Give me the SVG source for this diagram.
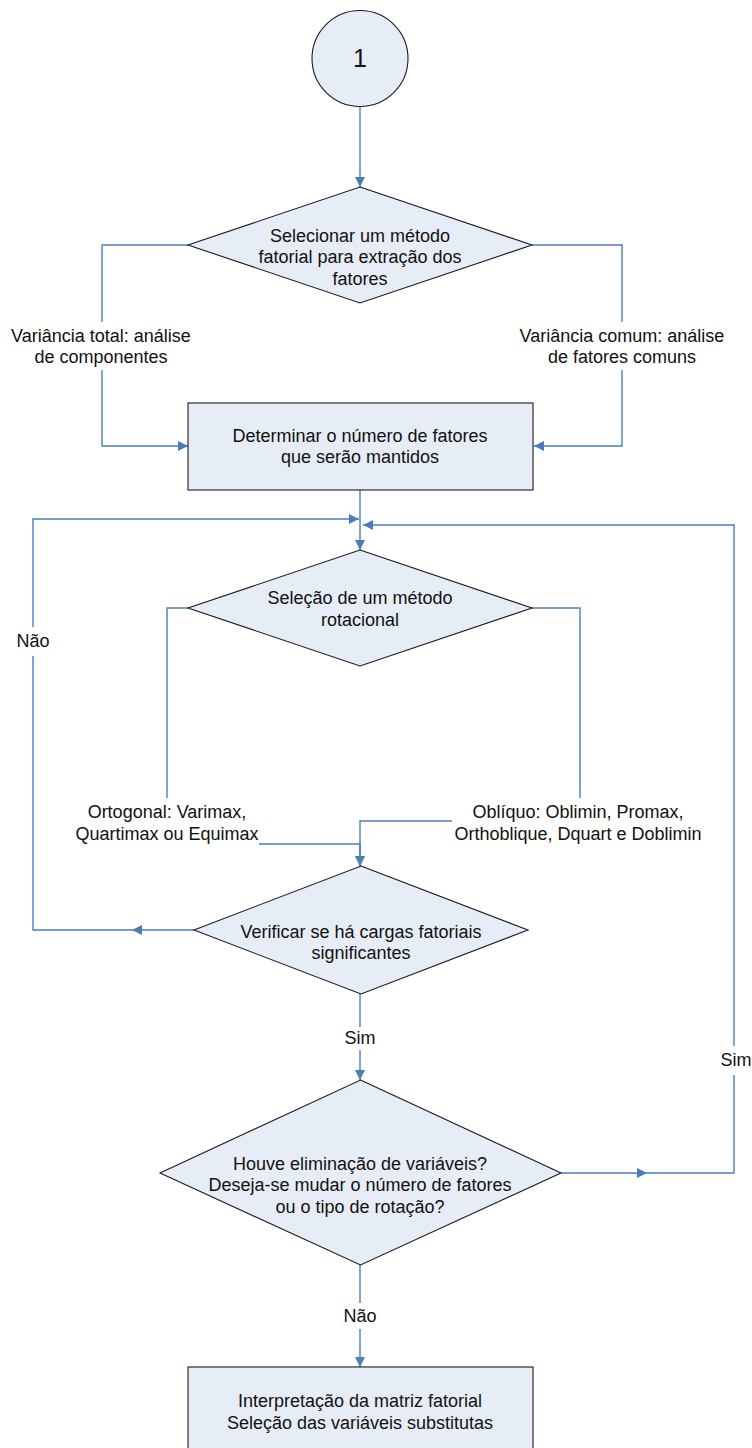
<svg xmlns="http://www.w3.org/2000/svg" width="752" height="1448" viewBox="0 0 752 1448">
<style>
.shape{fill:#E7EDF7;stroke:#1a1a1a;stroke-width:1.1}
.c{fill:none;stroke:#4A7EBB;stroke-width:1.4}
text{font-family:"Liberation Sans",Arial,sans-serif;font-size:18px;fill:#111;text-anchor:middle}
</style>
<defs>
<marker id="ah" markerUnits="userSpaceOnUse" viewBox="0 0 10 10" refX="10" refY="5" markerWidth="10" markerHeight="10" orient="auto">
<path d="M0,0 L10,5 L0,10 z" fill="#4A7EBB"/>
</marker>
</defs>
<rect width="752" height="1448" fill="#fff"/>
<g id="connectors">
<path class="c" d="M360,107 V187" marker-end="url(#ah)"/>
<path class="c" d="M188,245 H102 V322"/>
<path class="c" d="M102,370 V446 H188" marker-end="url(#ah)"/>
<path class="c" d="M532,245 H622 V322"/>
<path class="c" d="M622,370 V446 H534" marker-end="url(#ah)"/>
<path class="c" d="M360,490 V550" marker-end="url(#ah)"/>
<path class="c" d="M194,930 H132" marker-end="url(#ah)"/>
<path class="c" d="M132,930 H33 V656"/>
<path class="c" d="M33,627 V519 H359" marker-end="url(#ah)"/>
<path class="c" d="M561,1173 H647" marker-end="url(#ah)"/>
<path class="c" d="M647,1173 H734 V1075"/>
<path class="c" d="M734,1046 V525 H363" marker-end="url(#ah)"/>
<path class="c" d="M188,608 H167 V798"/>
<path class="c" d="M259,844 H360 V866" marker-end="url(#ah)"/>
<path class="c" d="M532,608 H580 V798"/>
<path class="c" d="M452,821 H360 V866" marker-end="url(#ah)"/>
<path class="c" d="M360,994 V1027"/>
<path class="c" d="M360,1050 V1080" marker-end="url(#ah)"/>
<path class="c" d="M360,1265 V1303"/>
<path class="c" d="M360,1329 V1367" marker-end="url(#ah)"/>
</g>
<g id="labels">
<text x="101" y="341.5">Variância total: análise</text>
<text x="101" y="363">de componentes</text>
<text x="622" y="341.5">Variância comum: análise</text>
<text x="622" y="363">de fatores comuns</text>
<text x="33" y="647">Não</text>
<text x="167" y="818">Ortogonal: Varimax,</text>
<text x="167" y="840">Quartimax ou Equimax</text>
<text x="578" y="818">Oblíquo: Oblimin, Promax,</text>
<text x="578" y="840">Orthoblique, Dquart e Doblimin</text>
<text x="360" y="1044">Sim</text>
<text x="736" y="1066">Sim</text>
<text x="360" y="1322">Não</text>
</g>
<g id="n_start">
<circle class="shape" cx="360" cy="58.5" r="48"/>
<text x="360" y="67" style="font-size:25px">1</text>
</g>
<g id="n_metodo">
<polygon class="shape" points="360,187 532,245 360,303 188,245"/>
<text x="360" y="241.5">Selecionar um método</text>
<text x="360" y="263">fatorial para extração dos</text>
<text x="360" y="284.5">fatores</text>
</g>
<g id="n_numero">
<rect class="shape" x="188" y="403" width="345" height="87"/>
<text x="360" y="441.5">Determinar o número de fatores</text>
<text x="360" y="463">que serão mantidos</text>
</g>
<g id="n_rotacao">
<polygon class="shape" points="360,550 532,608 360,666 188,608"/>
<text x="360" y="604">Seleção de um método</text>
<text x="360" y="625.5">rotacional</text>
</g>
<g id="n_cargas">
<polygon class="shape" points="361,866 528,930 361,994 194,930"/>
<text x="361" y="937.5">Verificar se há cargas fatoriais</text>
<text x="361" y="959">significantes</text>
</g>
<g id="n_elim">
<polygon class="shape" points="360.5,1080 561,1173 360.5,1265 160,1173"/>
<text x="360" y="1169.5">Houve eliminação de variáveis?</text>
<text x="360" y="1191">Deseja-se mudar o número de fatores</text>
<text x="360" y="1212.5">ou o tipo de rotação?</text>
</g>
<g id="n_interp">
<rect class="shape" x="188" y="1367" width="345" height="95"/>
<text x="360" y="1407">Interpretação da matriz fatorial</text>
<text x="360" y="1428.5">Seleção das variáveis substitutas</text>
</g>
</svg>
